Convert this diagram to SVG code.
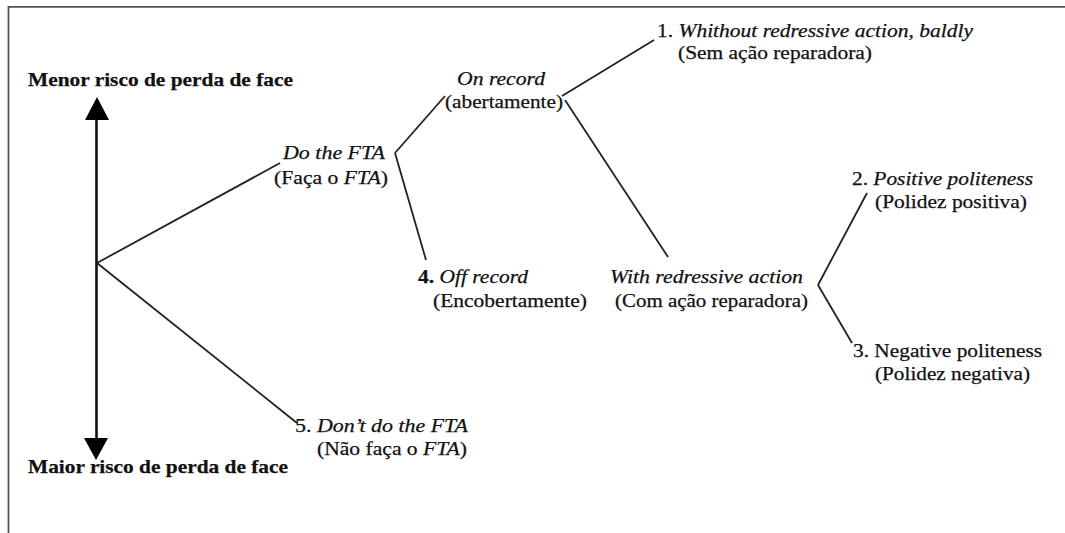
<svg xmlns="http://www.w3.org/2000/svg" width="1065" height="533" viewBox="0 0 1065 533">
<style>
text{font-family:"Liberation Serif","DejaVu Serif",serif;font-size:19px;fill:#111;stroke:#111;stroke-width:0.25}
.b{font-weight:bold}
.i{font-style:italic}
.frame{stroke:#555;stroke-width:1.8;fill:none}
.con line{stroke:#222;stroke-width:1.8;fill:none}
.axis{stroke:#111;stroke-width:2.6}
.head{fill:#000}
</style>
<rect width="1065" height="533" fill="#fff"/>
<path class="frame" d="M8.5 533 V6.8 H1065"/>
<g id="axis">
<line class="axis" x1="96.5" y1="116" x2="96.5" y2="442"/>
<polygon class="head" points="97,97 109,120 85,120"/>
<polygon class="head" points="96,460 108,438 84,438"/>
</g>
<g id="connectors" class="con">
<line x1="97" y1="263" x2="280" y2="163"/>
<line x1="97" y1="263" x2="297" y2="423"/>
<line x1="395" y1="153" x2="445" y2="96"/>
<line x1="395" y1="153" x2="426" y2="260"/>
<line x1="562" y1="96" x2="654" y2="40"/>
<line x1="565" y1="100" x2="668" y2="257"/>
<line x1="818" y1="285" x2="867" y2="193"/>
<line x1="818" y1="285" x2="852" y2="343"/>
</g>
<g id="menor"><text class="b" x="28" y="86" textLength="265" lengthAdjust="spacingAndGlyphs">Menor risco de perda de face</text></g>
<g id="maior"><text class="b" x="28" y="473" textLength="260" lengthAdjust="spacingAndGlyphs">Maior risco de perda de face</text></g>
<g id="do-fta">
<text class="i" x="283" y="159" textLength="102" lengthAdjust="spacingAndGlyphs">Do the FTA</text>
<text x="274" y="184" textLength="114" lengthAdjust="spacingAndGlyphs">(Faça o <tspan class="i">FTA</tspan>)</text>
</g>
<g id="on-record">
<text class="i" x="457" y="85" textLength="88" lengthAdjust="spacingAndGlyphs">On record</text>
<text x="445" y="108" textLength="118" lengthAdjust="spacingAndGlyphs">(abertamente)</text>
</g>
<g id="n1">
<text x="657" y="37" textLength="316" lengthAdjust="spacingAndGlyphs">1. <tspan class="i">Whithout redressive action, baldly</tspan></text>
<text x="678" y="59" textLength="194" lengthAdjust="spacingAndGlyphs">(Sem ação reparadora)</text>
</g>
<g id="n4">
<text x="418" y="283" textLength="110" lengthAdjust="spacingAndGlyphs"><tspan class="b">4.</tspan> <tspan class="i">Off record</tspan></text>
<text x="433" y="307" textLength="154" lengthAdjust="spacingAndGlyphs">(Encobertamente)</text>
</g>
<g id="with-redressive">
<text class="i" x="610" y="283" textLength="193" lengthAdjust="spacingAndGlyphs">With redressive action</text>
<text x="615" y="307" textLength="193" lengthAdjust="spacingAndGlyphs">(Com ação reparadora)</text>
</g>
<g id="n2">
<text x="852" y="185" textLength="181" lengthAdjust="spacingAndGlyphs">2. <tspan class="i">Positive politeness</tspan></text>
<text x="875" y="208" textLength="152" lengthAdjust="spacingAndGlyphs">(Polidez positiva)</text>
</g>
<g id="n3">
<text x="853" y="357" textLength="189" lengthAdjust="spacingAndGlyphs">3. Negative politeness</text>
<text x="875" y="380" textLength="155" lengthAdjust="spacingAndGlyphs">(Polidez negativa)</text>
</g>
<g id="n5">
<text x="295" y="432" textLength="173" lengthAdjust="spacingAndGlyphs">5. <tspan class="i">Don’t do the FTA</tspan></text>
<text x="317" y="455" textLength="150" lengthAdjust="spacingAndGlyphs">(Não faça o <tspan class="i">FTA</tspan>)</text>
</g>
</svg>
